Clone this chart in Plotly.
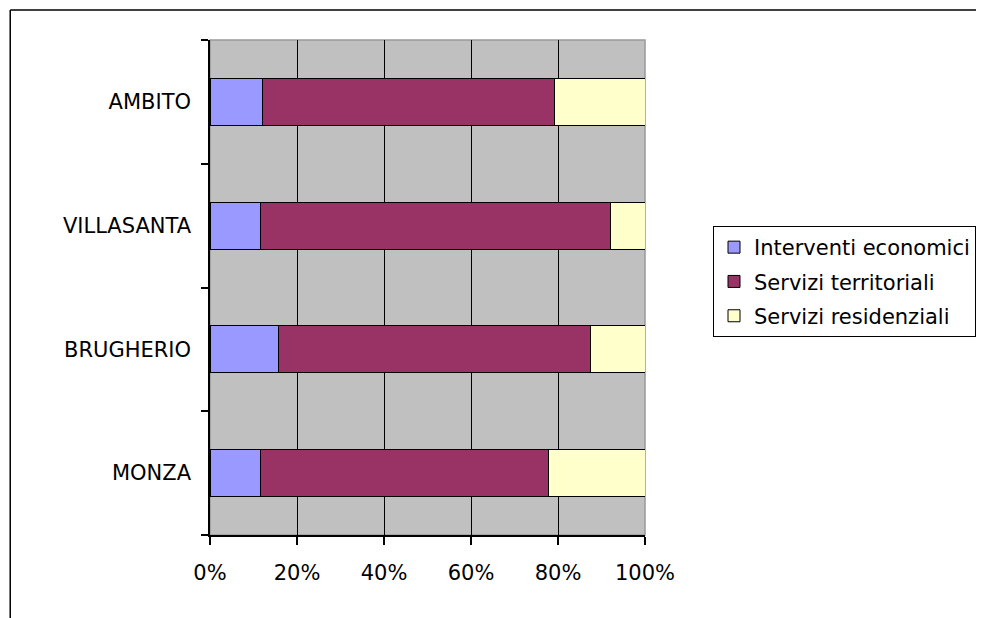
import plotly.graph_objects as go

categories = ["MONZA", "BRUGHERIO", "VILLASANTA", "AMBITO"]
series_names = ["Interventi economici", "Servizi territoriali", "Servizi residenziali"]
interventi = [11.6, 15.7, 11.6, 12.0]
territoriali = [66.2, 71.8, 80.4, 67.1]
residenziali = [22.2, 12.5, 8.0, 20.9]
colors = ["#9999FF", "#993366", "#FFFFCC"]
x_ticks = [0, 20, 40, 60, 80, 100]
x_ticklabels = ["0%", "20%", "40%", "60%", "80%", "100%"]

FONT = "DejaVu Sans"
FS = 21

fig = go.Figure()
for name, vals, col in zip(series_names, [interventi, territoriali, residenziali], colors):
    fig.add_trace(go.Bar(
        y=categories, x=vals, name=name, orientation="h",
        marker=dict(color=col, line=dict(color="black", width=1)),
        width=0.38, legendgroup=name,
    ))

# page offset (body margin) compensation
OFF = 8
W, H = 984 - OFF, 618 - OFF
L, R, T, B = 209.5 - OFF, 645.0 - OFF, 39.5 - OFF, 535.0 - OFF
pw, ph = R - L, B - T

def px(xp):
    return (xp - OFF - L) / pw

def py(yp):
    return (B - (yp - OFF)) / ph

shapes = [
    dict(type="rect", xref="paper", yref="paper", x0=0, x1=1, y0=0, y1=1,
         line=dict(color="#999999", width=1.5), layer="below"),
    dict(type="line", xref="paper", yref="paper", x0=px(9.5), x1=px(1000), y0=py(9.5), y1=py(9.5),
         line=dict(color="black", width=1.5)),
    dict(type="line", xref="paper", yref="paper", x0=px(9.5), x1=px(9.5), y0=py(9.5), y1=py(640),
         line=dict(color="black", width=1.5)),
]

fig.update_layout(
    width=W, height=H,
    barmode="stack",
    paper_bgcolor="white",
    plot_bgcolor="#C0C0C0",
    font=dict(family=FONT, size=FS, color="black"),
    margin=dict(l=L, r=W - R, t=T, b=H - B, autoexpand=False),
    showlegend=True,
    legend=dict(
        xref="container", yref="container",
        x=(713 - OFF) / W, y=1 - (226 - OFF) / H, xanchor="left", yanchor="top",
        bordercolor="black", borderwidth=1, bgcolor="white",
        traceorder="grouped", tracegroupgap=4,
        font=dict(family=FONT, size=21, color="black"),
    ),
    shapes=shapes,
)
fig.update_xaxes(
    range=[0, 100], tickvals=x_ticks, ticktext=x_ticklabels,
    showgrid=True, gridcolor="black", gridwidth=1,
    zeroline=False, showline=True, linecolor="black", linewidth=1.5,
    ticks="outside", ticklen=8, tickcolor="black", tickwidth=1.5,
    ticklabelstandoff=10, fixedrange=True,
)
fig.update_yaxes(
    categoryorder="array", categoryarray=categories,
    tickson="boundaries", ticks="outside", ticklen=7, tickcolor="black", tickwidth=1.5,
    showgrid=False, showline=True, linecolor="black", linewidth=1.5,
    ticklabelstandoff=13, fixedrange=True,
)

fig.write_html("out.html", config={"displayModeBar": False})
